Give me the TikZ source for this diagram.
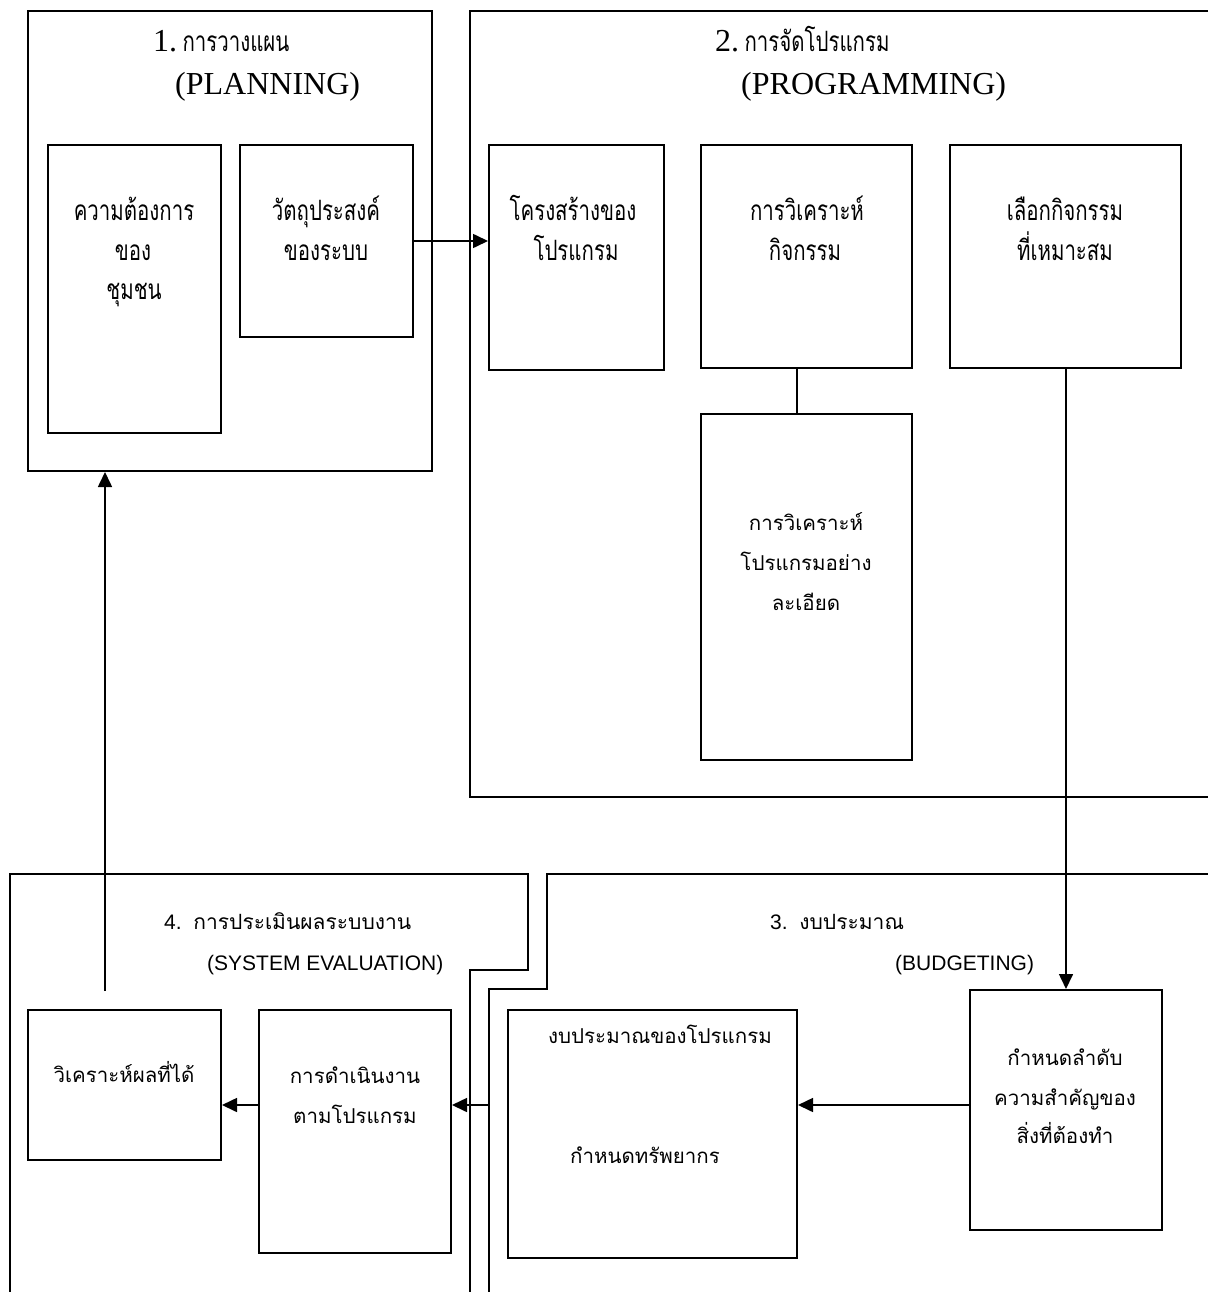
\documentclass[tikz,border=0pt]{standalone}
\usepackage{fontspec}
\setmainfont{Liberation Serif}
\newfontfamily\arialf{Liberation Sans}
\newfontfamily\thaiS[Script=Thai,FakeStretch=0.73]{Loma}
\newfontfamily\thaiB[Script=Thai]{Loma}
\usetikzlibrary{arrows.meta,fit}
\begin{document}
\begin{tikzpicture}[x=1pt,y=-1pt,
  box/.style={draw,line width=2pt,inner sep=0pt},
  frame/.style={draw,line width=2pt},
  conn/.style={line width=1.6pt},
  arr/.style={line width=1.6pt,-{Triangle[length=15pt,width=14pt]}},
  ttop/.style={font=\thaiS\fontsize{28}{30}\selectfont,anchor=base,inner sep=0pt},
  tbot/.style={font=\thaiB\fontsize{20.5}{24}\selectfont,anchor=base,inner sep=0pt},
  htop/.style={font=\fontsize{32}{36}\selectfont,anchor=base west,inner sep=0pt},
  hbot/.style={font=\arialf\fontsize{21}{24}\selectfont,anchor=base west,inner sep=0pt}]
\useasboundingbox[fill=white] (0,0) rectangle (1208,1292);
% ---------- 1. planning ----------
\node[box,fit={(28,11) (432,471)}] (plan) {};
\node[htop] (h1) at (153,52) {1.\,{\thaiS\fontsize{28}{30}\selectfont การวางแผน}};
\node[htop] (h1e) at (175,95) {(PLANNING)};
\node[box,fit={(48,145) (221,433)}] (need) {};
\node[box,fit={(240,145) (413,337)}] (obj) {};
\node[ttop] (tneed1) at (134,220) {ความต้องการ};
\node[ttop] (tneed2) at (133,260) {ของ};
\node[ttop] (tneed3) at (134,299) {ชุมชน};
\node[ttop] (tobj1) at (326,220) {วัตถุประสงค์};
\node[ttop] (tobj2) at (326,260) {ของระบบ};
% ---------- 2. programming ----------
\draw[frame] (1208,11) -- (470,11) -- (470,797) -- (1208,797);
\node[htop] (h2) at (715,52) {2.\,{\thaiS\fontsize{28}{30}\selectfont การจัดโปรแกรม}};
\node[htop] (h2e) at (741,95) {(PROGRAMMING)};
\node[box,fit={(489,145) (664,370)}] (struct) {};
\node[box,fit={(701,145) (912,368)}] (anact) {};
\node[box,fit={(950,145) (1181,368)}] (select) {};
\node[box,fit={(701,414) (912,760)}] (andet) {};
\node[ttop] (tstruct1) at (573,220) {โครงสร้างของ};
\node[ttop] (tstruct2) at (576,260) {โปรแกรม};
\node[ttop] (tanact1) at (807,220) {การวิเคราะห์};
\node[ttop] (tanact2) at (805,260) {กิจกรรม};
\node[ttop] (tselect1) at (1065,220) {เลือกกิจกรรม};
\node[ttop] (tselect2) at (1065,260) {ที่เหมาะสม};
\node[tbot] (tandet1) at (806,530.5) {การวิเคราะห์};
\node[tbot] (tandet2) at (806,570.5) {โปรแกรมอย่าง};
\node[tbot] (tandet3) at (806,610.5) {ละเอียด};
% ---------- 4. evaluation ----------
\draw[frame] (470,1292) -- (470,970) -- (528,970) -- (528,874) -- (10,874) -- (10,1292);
\node[hbot] (h4) at (164,929) {4.\ \ {\thaiB การประเมินผลระบบงาน}};
\node[hbot] (h4e) at (207,970.5) {(SYSTEM EVALUATION)};
\node[box,fit={(28,1010) (221,1160)}] (anres) {};
\node[box,fit={(259,1010) (451,1253)}] (exec) {};
\node[tbot] (tanres) at (124,1082.5) {วิเคราะห์ผลที่ได้};
\node[tbot] (texec1) at (355,1083.5) {การดำเนินงาน};
\node[tbot] (texec2) at (355,1123.5) {ตามโปรแกรม};
% ---------- 3. budgeting ----------
\draw[frame] (489,1292) -- (489,989) -- (547,989) -- (547,874) -- (1208,874);
\node[hbot] (h3) at (770,929) {3.\ \ {\thaiB งบประมาณ}};
\node[hbot] (h3e) at (895,970.5) {(BUDGETING)};
\node[box,fit={(508,1010) (797,1258)}] (budprog) {};
\node[box,fit={(970,990) (1162,1230)}] (prio) {};
\node[tbot] (tbud1) at (660,1043.5) {งบประมาณของโปรแกรม};
\node[tbot] (tbud2) at (645,1163.5) {กำหนดทรัพยากร};
\node[tbot] (tprio1) at (1065,1065.5) {กำหนดลำดับ};
\node[tbot] (tprio2) at (1065,1105.5) {ความสำคัญของ};
\node[tbot] (tprio3) at (1065,1143.5) {สิ่งที่ต้องทำ};
% ---------- connectors ----------
\coordinate (ay) at (0,1105);
\coordinate (bl) at (489,1105);
\coordinate (fb) at (105,991);
\coordinate (vx) at (797,0);
\draw[arr] (obj.east) -- (obj.east -| struct.west);
\draw[conn] (vx |- anact.south) -- (vx |- andet.north);
\draw[arr] (prio.north |- select.south) -- (prio.north);
\draw[arr] (prio.west |- ay) -- (budprog.east |- ay);
\draw[arr] (bl) -- (exec.east |- bl);
\draw[arr] (exec.west |- ay) -- (anres.east |- ay);
\draw[arr] (fb) -- (fb |- plan.south);
\end{tikzpicture}
\end{document}
